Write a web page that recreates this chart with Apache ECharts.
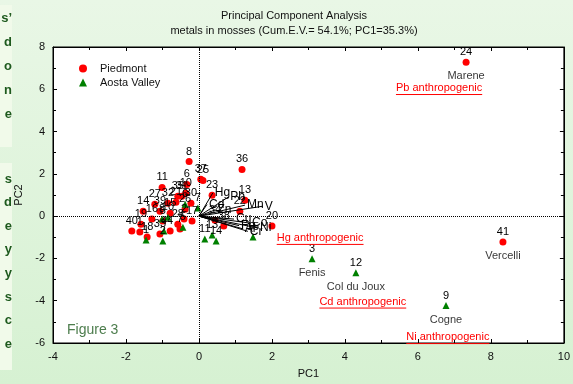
<!DOCTYPE html>
<html>
<head>
<meta charset="utf-8">
<script src="https://cdn.jsdelivr.net/npm/echarts@6/dist/echarts.min.js"></script>
<style>
  html, body { margin: 0; padding: 0; }
  body { background: linear-gradient(#e9f7e6, #d6f1d2); }
  #chart { width: 573px; height: 384px; }
</style>
</head>
<body>
<div id="chart"></div>
<script>
// site scores: [id, PC1, PC2]
const piedmont = [
  [24, 7.32, 7.28], [41, 8.33, -1.22], [20, 2.00, -0.47], [36, 1.18, 2.21],
  [8, -0.27, 2.58], [6, -0.33, 1.50], [37, 0.05, 1.74], [25, 0.11, 1.69],
  [11, -1.01, 1.36], [35, -0.58, 0.94], [10, -0.36, 1.08], [23, 0.36, 0.99],
  [13, 1.26, 0.75], [22, 1.12, 0.23], [38, 0.68, -0.47], [34, 0.44, -0.19],
  [40, -1.84, -0.70], [14, -1.53, 0.23], [27, -1.21, 0.56], [32, -0.85, 0.61],
  [21, -0.63, 0.66], [31, -0.47, 0.94], [30, -0.22, 0.61], [26, -0.38, 0.33],
  [15, -0.79, 0.14], [39, -1.07, 0.23], [17, -0.19, -0.23], [28, -0.58, -0.38],
  [2, -0.41, -0.14], [5, -0.99, -0.23], [16, -1.29, -0.14], [18, -1.42, -0.99],
  [19, -1.59, -0.38], [1, -1.62, -0.75], [4, -0.79, -0.70], [7, -0.52, -0.61],
  [33, -1.07, -0.85]
];
const aosta = [
  [3, 3.10, -2.02], [12, 4.30, -2.68], [9, 6.77, -4.23],
  [1, -1.45, -1.13], [2, -0.99, -1.17], [4, -0.96, -0.70], [5, -0.44, -0.52],
  [6, -0.38, 0.56], [7, -0.03, 0.38], [8, -1.01, -0.14], [10, -0.85, -0.05],
  [11, 0.16, -1.08], [13, 0.36, -0.89], [14, 0.47, -1.17], [15, 1.48, -0.99]
];
// place names written under some sites: [name, PC1, PC2]
const placeNames = [
  ['Marene', 7.32, 7.28], ['Vercelli', 8.33, -1.22], ['Fenis', 3.10, -2.02],
  ['Col du Joux', 4.30, -2.68], ['Cogne', 6.77, -4.23]
];
// variable loadings: [metal, PC1, PC2]
const loadings = [
  ['Hg', 0.38, 1.10], ['Pb', 0.80, 0.90], ['Mn', 1.26, 0.52], ['V', 1.75, 0.47],
  ['Cd', 0.22, 0.55], ['Zn', 0.45, 0.30], ['Cu', 0.96, -0.14], ['Fe', 1.10, -0.45],
  ['Co', 1.40, -0.33], ['Ni', 1.62, -0.56], ['Cr', 1.34, -0.72], ['Al', 1.20, -0.60]
];
// red notes: [text, PC1, PC2]
const notes = [
  ['Pb anthropogenic', 6.58, 6.06], ['Hg anthropogenic', 3.32, -1.03],
  ['Cd anthropogenic', 4.49, -4.04], ['Ni anthropogenic', 6.82, -5.72]
];
const leftLetters1 = ['s\u2019', 'd', 'o', 'n', 'e'];
const leftLetters2 = ['s', 'd', 'e', 'y', 'y', 's', 'c', 'e'];

const FONT = 'Arial, "Liberation Sans", sans-serif';
const TXT = '#111';
const chart = echarts.init(document.getElementById('chart'));

const axisBase = {
  type: 'value',
  axisLine: { show: true, onZero: false, lineStyle: { color: '#000', width: 1 } },
  axisTick: { show: true, inside: true, length: 4, lineStyle: { color: '#000' } },
  minorTick: { show: true, splitNumber: 2, length: 3, lineStyle: { color: '#000' } },
  splitLine: { show: false },
  axisLabel: { color: TXT, fontSize: 11, fontFamily: FONT }
};

const numLabel = {
  show: true, position: 'top', distance: 1, opacity: 1,
  formatter: p => p.data[2], color: '#000', fontSize: 11, fontFamily: FONT
};

const series = [
  {
    name: 'Piedmont', type: 'scatter', symbol: 'circle', symbolSize: 7,
    itemStyle: { color: '#ff0000', opacity: 1 }, z: 3,
    data: piedmont.map(d => [d[1], d[2], d[0]]),
    label: numLabel,
    markLine: {
      silent: true, symbol: ['none', 'none'], label: { show: false },
      lineStyle: { color: '#000', type: 'dotted', width: 1 },
      data: [{ xAxis: 0 }, { yAxis: 0 }]
    }
  },
  {
    name: 'Aosta Valley', type: 'scatter', symbol: 'triangle', symbolSize: 7,
    itemStyle: { color: '#008000', opacity: 1 }, z: 3,
    data: aosta.map(d => [d[1], d[2], d[0]]),
    label: numLabel
  },
  {
    name: 'names', type: 'scatter', symbolSize: 1, z: 2,
    itemStyle: { color: 'rgba(0,0,0,0)' },
    data: placeNames.map(d => [d[1], d[2], d[0]]),
    label: {
      show: true, position: 'bottom', distance: 8,
      formatter: p => p.data[2], color: '#000', fontSize: 11, fontFamily: FONT
    }
  }
];
loadings.forEach(l => {
  series.push({
    name: l[0], type: 'line', symbol: 'none', z: 4,
    lineStyle: { color: '#000', width: 1 },
    data: [[0, 0], [l[1], l[2]]],
    endLabel: { show: true, formatter: l[0], color: '#000', fontSize: 12, fontFamily: FONT, distance: 2 }
  });
});

const option = {
  animation: false,
  backgroundColor: 'transparent',
  title: {
    text: 'Principal Component Analysis\nmetals in mosses (Cum.E.V.= 54.1%; PC1=35.3%)',
    left: 289, top: 3, textAlign: 'center',
    textStyle: { fontSize: 11, fontWeight: 'normal', color: TXT, fontFamily: FONT, lineHeight: 15 }
  },
  legend: {
    data: ['Piedmont', 'Aosta Valley'], orient: 'vertical',
    left: 74, top: 58, itemWidth: 8, itemHeight: 8, itemGap: 3,
    textStyle: { fontSize: 11, color: TXT, fontFamily: FONT, padding: [0, 0, 0, 8] }
  },
  grid: { left: 53, right: 7, top: 47, bottom: 39, show: true, backgroundColor: '#fff', borderColor: '#000', borderWidth: 1 },
  xAxis: [
    Object.assign({}, axisBase, {
      min: -4, max: 10, interval: 2, position: 'bottom',
      name: 'PC1', nameLocation: 'middle', nameGap: 25,
      nameTextStyle: { color: TXT, fontSize: 11, fontFamily: FONT }
    }),
    Object.assign({}, axisBase, { min: -4, max: 10, interval: 2, position: 'top', axisLabel: { show: false } })
  ],
  yAxis: [
    Object.assign({}, axisBase, {
      min: -6, max: 8, interval: 2, position: 'left',
      name: 'PC2', nameLocation: 'middle', nameGap: 22,
      nameTextStyle: { color: TXT, fontSize: 11, fontFamily: FONT }
    }),
    Object.assign({}, axisBase, { min: -6, max: 8, interval: 2, position: 'right', axisLabel: { show: false } })
  ],
  series: series
};
chart.setOption(option);

// extras: left cut-off panels, Figure label, underlined red notes
const graphics = [
  { type: 'rect', shape: { x: 0, y: 5, width: 12, height: 142 }, style: { fill: '#f1faea' }, silent: true },
  { type: 'rect', shape: { x: 0, y: 163, width: 12, height: 207 }, style: { fill: '#f1faea' }, silent: true },
  { type: 'text', left: 67, top: 323, style: { text: 'Figure 3', fill: '#4d7d4d', font: '14px ' + FONT }, z: 10 }
];
leftLetters1.forEach((t, i) => {
  graphics.push({ type: 'text', x: 12, y: 18 + i * 24.2,
    style: { text: t, fill: '#1e5a1e', font: 'bold 13px ' + FONT, align: 'right', verticalAlign: 'middle' } });
});
leftLetters2.forEach((t, i) => {
  graphics.push({ type: 'text', x: 12, y: 179 + i * 23.6,
    style: { text: t, fill: '#1e5a1e', font: 'bold 13px ' + FONT, align: 'right', verticalAlign: 'middle' } });
});
const ctx = document.createElement('canvas').getContext('2d');
ctx.font = '11px ' + FONT;
notes.forEach(n => {
  const p = chart.convertToPixel({ gridIndex: 0 }, [n[1], n[2]]);
  const w = ctx.measureText(n[0]).width;
  graphics.push({ type: 'text', x: p[0], y: p[1], z: 10,
    style: { text: n[0], fill: '#ff0000', font: '11px ' + FONT, align: 'center', verticalAlign: 'middle' } });
  graphics.push({ type: 'line', z: 10,
    shape: { x1: p[0] - w / 2, y1: p[1] + 6.5, x2: p[0] + w / 2, y2: p[1] + 6.5 },
    style: { stroke: '#ff0000', lineWidth: 1 } });
});
chart.setOption({ graphic: graphics });
</script>
</body>
</html>
